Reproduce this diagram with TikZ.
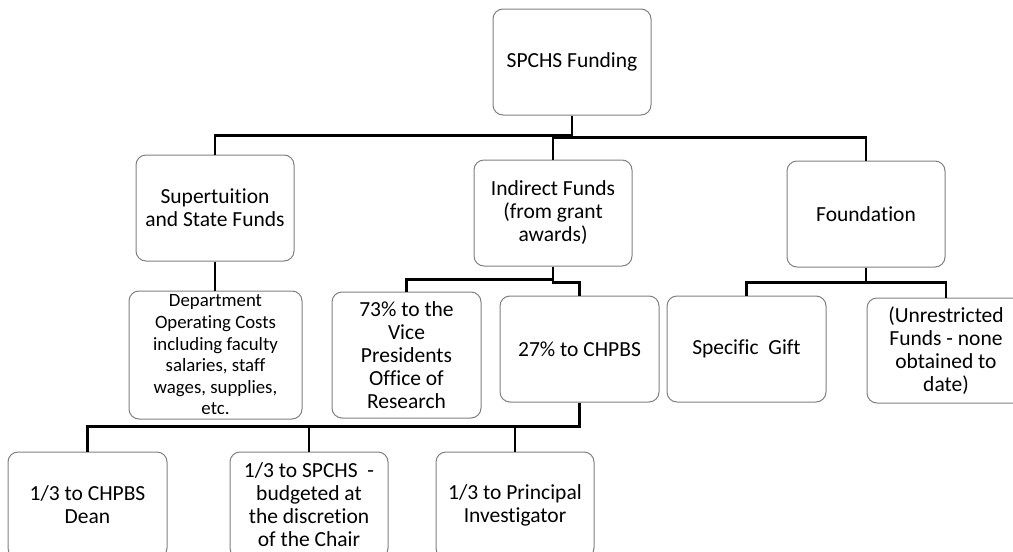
\documentclass[tikz,border=0pt]{standalone}
\usepackage{fontspec}
\setmainfont{Carlito}[Ligatures={NoCommon}]
\begin{document}
\begin{tikzpicture}[x=1pt,y={(0pt,-1pt)},
  box/.style={draw=black!50,line width=1pt,rounded corners=10pt,fill=white,
    minimum width=158pt,minimum height=106pt,align=center,inner sep=2pt,
    font=\fontsize{21.5}{23}\selectfont},
  smallbox/.style={box,font=\fontsize{18.8}{21.6}\selectfont},
  link/.style={draw=black,line width=2.6pt}]
\clip (0,0) rectangle (1013,552);
\fill[white] (0,0) rectangle (1013,552);

% top level
\node[box] (root) at (572,62) {SPCHS Funding};

% second level
\node[box] (sup) at (215,208) {Supertuition\\and State Funds};
\node[box] (ind) at (553,213) {Indirect Funds\\(from grant\\awards)};
\node[box] (fnd) at (866,214) {Foundation};

% third level
\node[smallbox,minimum width=173pt,minimum height=128pt] (dept) at (215.5,355)
  {Department\\Operating Costs\\including faculty\\salaries, staff\\wages, supplies,\\etc.};
\node[box,minimum width=149pt,minimum height=126pt] (v73) at (406.5,355)
  {73\% to the\\Vice\\Presidents\\Office of\\Research};
\node[box,minimum width=159pt] (p27) at (579.5,349) {27\% to CHPBS};
\node[box,minimum width=159pt] (gift) at (746.5,349) {Specific\ \ Gift};
\node[box,minimum height=105pt] (unr) at (946,350.5)
  {(Unrestricted\\Funds - none\\obtained to\\date)};

% fourth level
\node[box,minimum width=159pt] (dean) at (87.5,505) {1/3 to CHPBS\\Dean};
\node[box] (chair) at (309,505) {1/3 to SPCHS\ \ -\\budgeted at\\the discretion\\of the Chair};
\node[box] (pi) at (515,505) {1/3 to Principal\\Investigator};

% connectors
\draw[link] (root.south) -- ++(0,20) -| (sup.north);
\draw[link] (root.south) -- ++(0,22) -| (ind.north);
\draw[link] (root.south) -- ++(0,22) -| (fnd.north);
\draw[link] (sup.south) -- (sup.south |- dept.north);
\draw[link] (ind.south) -- ++(0,13) -| (v73.north);
\draw[link] (ind.south) -- ++(0,16) -| (p27.north);
\draw[link] (fnd.south) -- ++(0,15) -| (gift.north);
\draw[link] (fnd.south) -- ++(0,15) -| (unr.north);
\draw[link] (p27.south) -- ++(0,24) -| (dean.north);
\draw[link] (p27.south) -- ++(0,24) -| (chair.north);
\draw[link] (p27.south) -- ++(0,24) -| (pi.north);
\end{tikzpicture}
\end{document}
